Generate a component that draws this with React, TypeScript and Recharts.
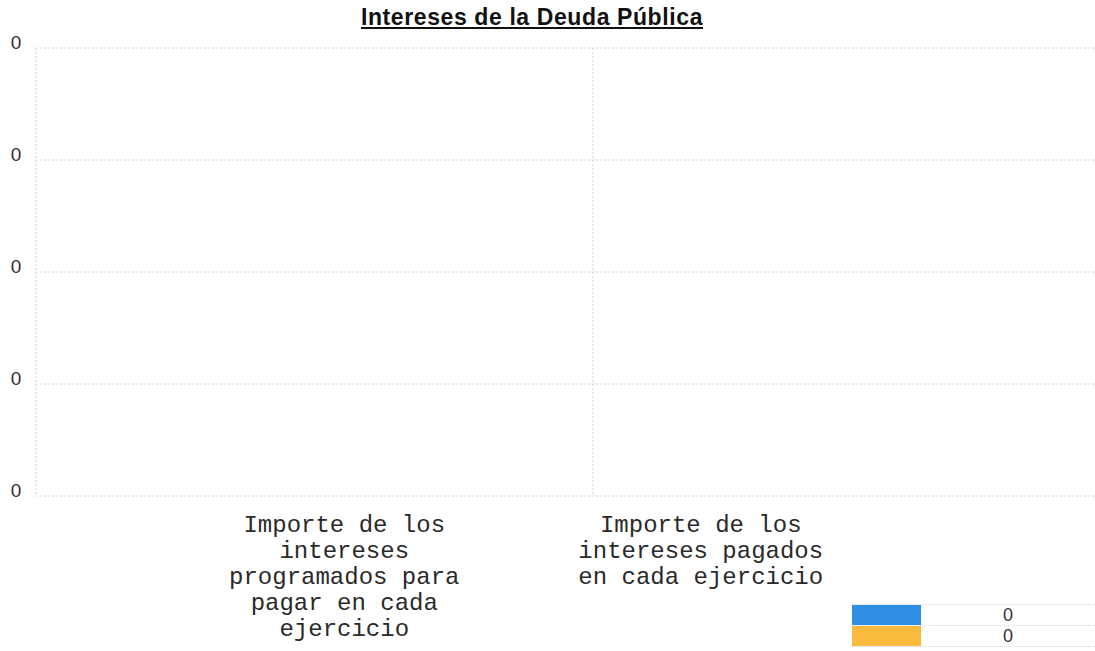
import { BarChart, Bar, XAxis, YAxis, CartesianGrid } from 'recharts';

// Category labels, one array of lines per category
const categories = ['programados', 'pagados'];
const categoryLines = [
    ['Importe de los', 'intereses', 'programados para', 'pagar en cada', 'ejercicio'],
    ['Importe de los', 'intereses pagados', 'en cada ejercicio'],
];

// Both series read as zero in the picture
const serieAzul = [0, 0];
const serieNaranja = [0, 0];

const yTicks = [0, 1, 2, 3, 4];
const yTickLabels = ['0', '0', '0', '0', '0'];

const legendColors = ['#2f8fe2', '#f9bb3d'];
const legendValues = ['0', '0'];

const data = categories.map((c, i) => ({
    name: c,
    azul: serieAzul[i],
    naranja: serieNaranja[i],
}));

const YTick = (props: any) => {
    const { y, index } = props;
    return (
        <text x={16} y={y - 6} textAnchor="middle" dominantBaseline="central"
            fontFamily="'Liberation Sans', Arial, sans-serif" fontSize={19} fill="#333">
            {yTickLabels[index]}
        </text>
    );
};

const XTick = (props: any) => {
    const { x, index } = props;
    const lines = categoryLines[index] || [];
    return (
        <text x={x} y={532} textAnchor="middle"
            fontFamily="'Liberation Mono', 'Courier New', monospace" fontSize={24} fill="#2a2a2a">
            {lines.map((l, i) => (
                <tspan key={i} x={x} dy={i === 0 ? 0 : 26}>{l}</tspan>
            ))}
        </text>
    );
};

// legend table in the bottom right corner (swatch + value)
const LegendTable = () => (
    <div style={{ position: 'absolute', left: 852, top: 604, width: 243 }}>
        {legendColors.map((c, i) => (
            <div key={i} style={{ display: 'flex', alignItems: 'center', height: 20, borderTop: '1px dotted #d3d7de', borderBottom: i === legendColors.length - 1 ? '1px dotted #d3d7de' : undefined }}>
                <div style={{ width: 70, height: 20, background: c }} />
                <div style={{ width: 176, textAlign: 'center', fontFamily: "'Liberation Sans', Arial, sans-serif", fontSize: 18, color: '#333', lineHeight: '20px' }}>
                    {legendValues[i]}
                </div>
            </div>
        ))}
    </div>
);

export default function App() {
    return (
        <div style={{ position: 'absolute', left: 0, top: 0, width: 1095, height: 651, background: '#fff', overflow: 'hidden' }}>
            <div style={{
                position: 'absolute', left: 0, width: 1064, top: 4, textAlign: 'center',
                fontFamily: "'Liberation Sans', Arial, sans-serif", fontWeight: 'bold', fontSize: 23,
                letterSpacing: 0.6, textDecoration: 'underline', color: '#111'
            }}>
                Intereses de la Deuda Pública
            </div>
            <BarChart width={1095} height={651} data={data} margin={{ top: 48, right: 0, left: 0, bottom: 0 }}>
                <CartesianGrid stroke="#cdd2da" strokeDasharray="2 2" verticalPoints={[36, 593]} />
                <XAxis dataKey="name" axisLine={false} tickLine={false} tick={<XTick />} interval={0}
                    padding={{ left: 130, right: 216 }} height={155} />
                <YAxis width={36} domain={[0, 4]} ticks={yTicks} axisLine={false} tickLine={false} tick={<YTick />} />
                <Bar dataKey="azul" fill={legendColors[0]} isAnimationActive={false} />
                <Bar dataKey="naranja" fill={legendColors[1]} isAnimationActive={false} />
            </BarChart>
            <LegendTable />
        </div>
    );
}
